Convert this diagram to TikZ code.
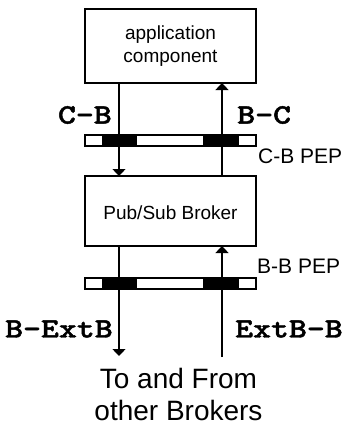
\documentclass[tikz,border=0pt]{standalone}
\usepackage{fontspec}
\setmainfont{Liberation Sans}
\newfontfamily\lblfont{lmmonolt10-bold.otf}[FakeBold=1.5]
\usetikzlibrary{arrows.meta}
\begin{document}
\begin{tikzpicture}[x=1pt,y=-1pt,
  boxst/.style={draw,line width=1.6pt,inner sep=0pt},
  flow/.style={line width=1.3pt,-{Triangle[width=13pt,length=7pt]}},
  barst/.style={draw,line width=1.2pt,fill=white},
  blk/.style={fill=black},
  lbl/.style={font=\lblfont\fontsize{28}{30}\selectfont,inner sep=0pt,xscale=1.22},
  pep/.style={font=\fontsize{21}{24}\selectfont,inner sep=0pt,anchor=west},
  boxtxt/.style={font=\fontsize{19}{23}\selectfont,align=center}]
\useasboundingbox (0,0) rectangle (344,429);
% boxes
\draw[boxst] (85,9) rectangle (256,83);
\node[boxtxt] (app) at (170.5,46) {application\\component};
\coordinate (appL) at (119,83);
\coordinate (appR) at (222,83);
\draw[boxst] (85,176) rectangle (256,246);
\node[boxtxt] (brk) at (170.5,213) {Pub/Sub Broker};
\coordinate (brkTL) at (119,176);
\coordinate (brkTR) at (222,176);
\coordinate (brkBL) at (119,246);
\coordinate (brkBR) at (222,246);
\coordinate (outL) at (119,356);
\coordinate (inR) at (222,357);
% PEP bars
\draw[barst] (85,135) rectangle (256,146);
\fill[blk] (102,135) rectangle (137,146);
\fill[blk] (203,135) rectangle (239,146);
\draw[barst,fill=none] (85,135) rectangle (256,146);
\draw[barst] (85,278) rectangle (256,289);
\fill[blk] (102,278) rectangle (137,289);
\fill[blk] (203,278) rectangle (239,289);
\draw[barst,fill=none] (85,278) rectangle (256,289);
% arrows
\draw[flow] (appL) -- (brkTL);
\draw[flow] (brkTR) -- (appR);
\draw[flow] (brkBL) -- (outL);
\draw[flow] (inR) -- (brkBR);
% labels
\node[lbl,anchor=east] (cb) at (112,115) {C-B};
\node[lbl,anchor=west] (bc) at (237,115) {B-C};
\node[pep] (cbpep) at (258,156) {C-B PEP};
\node[pep] (bbpep) at (257,266) {B-B PEP};
\node[lbl,anchor=east] (bext) at (113,329) {B-ExtB};
\node[lbl,anchor=east] (extb) at (343,329) {ExtB-B};
\node[font=\fontsize{28}{32}\selectfont,align=center,inner sep=0pt] (tf) at (178.5,394) {To and From\\other Brokers};
\end{tikzpicture}
\end{document}
